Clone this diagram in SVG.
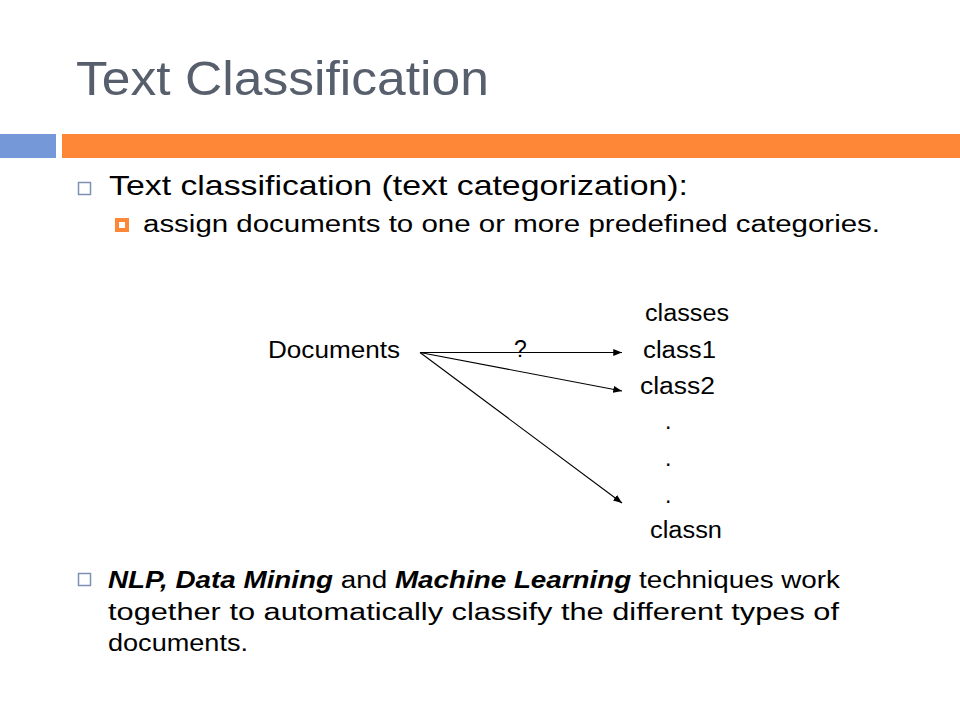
<svg xmlns="http://www.w3.org/2000/svg" width="960" height="720" viewBox="0 0 960 720">
<style>
text{font-family:"Liberation Sans","DejaVu Sans",Arial,sans-serif;fill:#000}
.title{font-size:49px;fill:#575F6D}
.l1{font-size:28px}
.l2{font-size:23px}
.d{font-size:23px}
.b{font-weight:bold;font-style:italic}
.conn{stroke:#000;stroke-width:1.1;fill:none;marker-end:url(#ah)}
</style>
<defs>
<marker id="ah" viewBox="0 0 10 8" refX="10" refY="4" markerWidth="9" markerHeight="7" markerUnits="userSpaceOnUse" orient="auto">
<path d="M0,0 L10,4 L0,8 Z" fill="#000"/>
</marker>
</defs>
<rect width="960" height="720" fill="#fff"/>
<g id="header">
<text class="title" x="76" y="95" textLength="413" lengthAdjust="spacingAndGlyphs">Text Classification</text>
<rect x="0" y="134" width="56" height="24" fill="#7598D9"/>
<rect x="62" y="134" width="898" height="24" fill="#FE8637"/>
</g>
<g id="bullet1">
<rect x="78.5" y="182.5" width="12" height="12" fill="none" stroke="#7f8fb5" stroke-width="1.5"/>
<text class="l1" x="109" y="195" textLength="579" lengthAdjust="spacingAndGlyphs">Text classification (text categorization):</text>
</g>
<g id="bullet1a">
<rect x="115" y="218" width="14" height="14" fill="#FE8637"/>
<rect x="119" y="222" width="6" height="6" fill="#fff"/>
<text class="l2" x="143" y="232" textLength="737" lengthAdjust="spacingAndGlyphs">assign documents to one or more predefined categories.</text>
</g>
<g id="node-documents"><text class="d" x="268" y="358" textLength="132" lengthAdjust="spacingAndGlyphs">Documents</text></g>
<g id="node-classes"><text class="d" x="645" y="321" textLength="84" lengthAdjust="spacingAndGlyphs">classes</text></g>
<g id="node-class1"><text class="d" x="643" y="358" textLength="73" lengthAdjust="spacingAndGlyphs">class1</text></g>
<g id="node-class2"><text class="d" x="640" y="394" textLength="75" lengthAdjust="spacingAndGlyphs">class2</text></g>
<g id="node-dots">
<text class="d" x="665" y="429">.</text>
<text class="d" x="665" y="466">.</text>
<text class="d" x="665" y="503">.</text>
</g>
<g id="node-classn"><text class="d" x="650" y="538" textLength="72" lengthAdjust="spacingAndGlyphs">classn</text></g>
<g id="connectors">
<line class="conn" x1="420" y1="352.5" x2="622" y2="352.5"/>
<line class="conn" x1="420" y1="352.5" x2="622" y2="391"/>
<line class="conn" x1="420" y1="352.5" x2="622" y2="503"/>
<text class="d" x="514" y="357" font-size="22">?</text>
</g>
<g id="bullet2">
<rect x="78.5" y="573.5" width="12" height="12" fill="none" stroke="#7f8fb5" stroke-width="1.5"/>
<text class="l2" x="108" y="588" font-size="24" textLength="732" lengthAdjust="spacingAndGlyphs"><tspan class="b">NLP, Data Mining</tspan> and <tspan class="b">Machine Learning</tspan> techniques work</text>
<text class="l2" x="108" y="620" font-size="24" textLength="731" lengthAdjust="spacingAndGlyphs">together to automatically classify the different types of</text>
<text class="l2" x="108" y="651" font-size="24" textLength="140" lengthAdjust="spacingAndGlyphs">documents.</text>
</g>
</svg>
